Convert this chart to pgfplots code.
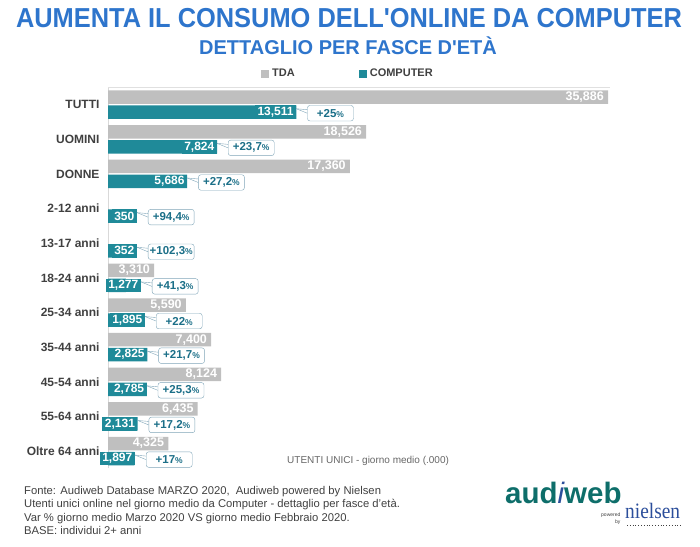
\documentclass[border=0pt]{standalone}
\usepackage{pgfplots}
\pgfplotsset{compat=1.18}
\usepackage{pgfplotstable}
\usepackage{fontspec}
\setmainfont{Liberation Sans}
\newfontfamily\seriffont{Liberation Serif}
\definecolor{tda}{HTML}{BFBFBF}
\definecolor{comp}{HTML}{1F8A99}
\definecolor{titleblue}{HTML}{2E75CC}
\definecolor{txt}{HTML}{404040}
\definecolor{cborder}{HTML}{7FA5B8}
\definecolor{ctext}{HTML}{1B6F88}
\definecolor{logoteal}{HTML}{0E6E6A}
\definecolor{nblue}{HTML}{2B4E9B}

\pgfplotstableread{
y tda tlab
10 35886 35,886
9 18526 18,526
8 17360 17,360
5 3310 3,310
4 5590 5,590
3 7400 7,400
2 8124 8,124
1 6435 6,435
0 4325 4,325
}\tdadata

\pgfplotstableread{
y comp clab labend pct
10 13511 13,511 13511 +25
9 7824 7,824 7824 +23,7
8 5686 5,686 5686 +27,2
7 350 350 2081 +94,4
6 352 352 2081 +102,3
5 1277 1,277 2368 +41,3
4 1895 1,895 2656 +22
3 2825 2,825 2825 +21,7
2 2785 2,785 2785 +25,3
1 2131 2,131 2131 +17,2
0 1897 1,897 1938 +17
}\compdata

\begin{document}
\begin{tikzpicture}[x=1pt,y=1pt]
\useasboundingbox (0,0) rectangle (700,546);
\begin{axis}[
  at={(108pt,77.6pt)}, anchor=south west,
  scale only axis, width=500pt, height=381pt,
  xmin=0, xmax=35886, ymin=-0.5, ymax=10.5,
  axis x line=none, axis y line=left,
  y axis line style={draw=black!15, -},
  xtick=\empty,
  ytick={0,...,10},
  yticklabels={Oltre 64 anni,55-64 anni,45-54 anni,35-44 anni,25-34 anni,18-24 anni,13-17 anni,2-12 anni,DONNE,UOMINI,TUTTI},
  major tick length=0pt,
  yticklabel style={font=\fontsize{12}{14}\selectfont\bfseries, text=txt, xshift=-5pt},
  clip=false,
  legend style={at={(0.48,1)}, anchor=south, yshift=5pt, draw=none, fill=none,
    font=\fontsize{11}{12}\selectfont\bfseries, text=txt, legend columns=2,
    /tikz/every odd column/.append style={column sep=1pt},
    /tikz/every even column/.append style={column sep=62pt}},
  legend image code/.code={\fill[#1] (0pt,-4pt) rectangle (8pt,4pt);},
]
\addplot[xbar, bar width=13.5pt, bar shift=7.5pt, fill=tda, draw=none] table[x=tda,y=y]{\tdadata};
\addlegendentry{TDA}
\addplot[xbar, bar width=13.5pt, bar shift=-7.5pt, fill=comp, draw=none] table[x=comp,y=y]{\compdata};
\addlegendentry{COMPUTER}

% TDA value labels
\addplot[forget plot, draw=none, nodes near coords, point meta=explicit symbolic,
  every node near coord/.style={anchor=east, yshift=7.5pt, xshift=-1pt, text=white,
    font=\fontsize{12.5}{14}\selectfont\bfseries, inner xsep=3pt, inner ysep=1pt}]
  table[x=tda,y=y,meta=tlab]{\tdadata};

% COMPUTER value labels
\addplot[forget plot, draw=none, nodes near coords, point meta=explicit symbolic,
  every node near coord/.style={anchor=east, yshift=-7.5pt, fill=comp, text=white,
    font=\fontsize{12}{14}\selectfont\bfseries, inner xsep=2.5pt, inner ysep=0pt,
    minimum height=13.5pt}]
  table[x=labend,y=y,meta=clab]{\compdata};

% callouts
\addplot[forget plot, draw=none, point meta=explicit symbolic,
  nodes near coords={\pgfplotspointmeta{\fontsize{8.5}{9}\selectfont\%}},
  every node near coord/.style={anchor=west, xshift=11pt, yshift=-8.5pt,
    draw=cborder, rounded corners=2.5pt, fill=white, text=ctext,
    font=\fontsize{11.5}{12}\selectfont\bfseries, minimum width=46pt,
    minimum height=15.5pt, inner sep=1pt,
    append after command={
      ([yshift=3.5pt]\tikzlastnode.west) edge[draw=cborder, rounded corners=0pt] ([xshift=-11pt,yshift=4.5pt]\tikzlastnode.west)
      (\tikzlastnode.west) edge[draw=cborder, rounded corners=0pt] ([xshift=-11pt,yshift=4.5pt]\tikzlastnode.west)
    }}]
  table[x=labend,y=y,meta=pct]{\compdata};

\draw[black!12] (rel axis cs:0,1) -- (rel axis cs:1.004,1);
\end{axis}

\node[font=\fontsize{25.4}{30}\selectfont\bfseries, text=titleblue] at (349,528) {\scalebox{1}[1.08]{AUMENTA IL CONSUMO DELL\textquotesingle ONLINE DA COMPUTER}};
\node[font=\fontsize{20}{24}\selectfont\bfseries, text=titleblue] at (348,500) {DETTAGLIO PER FASCE D\textquotesingle ETÀ};

\node[anchor=west, font=\fontsize{10}{12}\selectfont, text=black!60, inner sep=0pt] at (287,85) {UTENTI UNICI - giorno medio (.000)};

\node[anchor=north west, align=left, font=\fontsize{11.25}{13.4}\selectfont, text=txt, inner sep=0pt] at (24,60)
  {Fonte: Audiweb Database MARZO 2020,\ \ Audiweb powered by Nielsen\\
   Utenti unici online nel giorno medio da Computer - dettaglio per fasce d'età.\\
   Var \% giorno medio Marzo 2020 VS giorno medio Febbraio 2020.\\
   BASE: individui 2+ anni};

% logo
\node[anchor=base west, font=\fontsize{29.5}{32}\selectfont\bfseries, text=logoteal, inner sep=0pt] at (505,43)
  {aud{\color{nblue}\mdseries\itshape i}web};
\node[anchor=base west, font=\seriffont\fontsize{22}{24}\selectfont, text=nblue, inner sep=0pt] at (625,28) {\scalebox{0.88}[1]{nielsen}};
\node[anchor=west, font=\fontsize{5}{6}\selectfont, text=txt, inner sep=0pt] at (601,31) {powered};
\node[anchor=west, font=\fontsize{5}{6}\selectfont, text=txt, inner sep=0pt] at (615,24) {by};
\draw[txt, dotted, line width=0.8pt] (627,21) -- (681,21);
\end{tikzpicture}
\end{document}
